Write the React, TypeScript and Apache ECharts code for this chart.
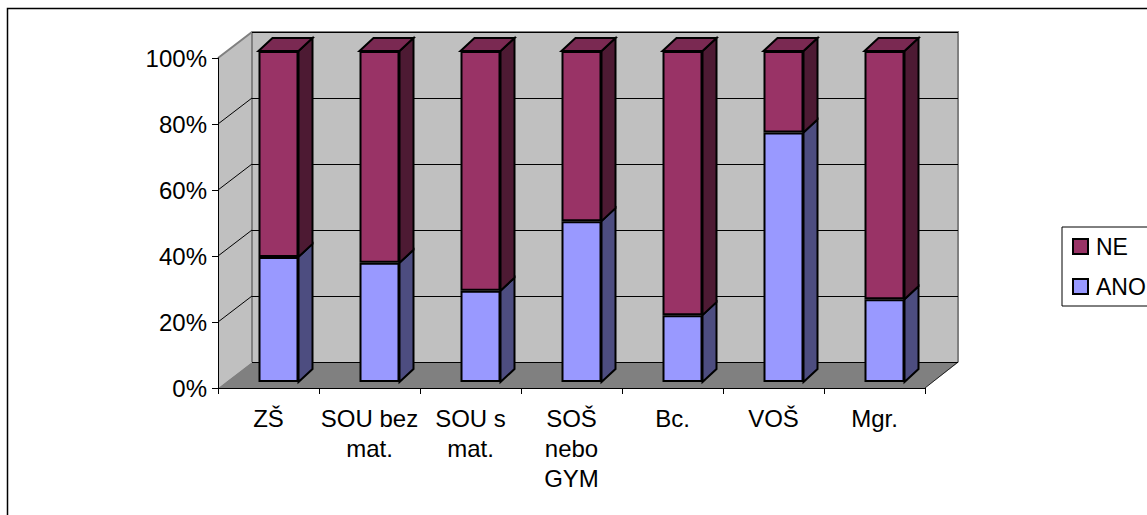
import React, { useEffect, useRef } from "react";
import * as echarts from "echarts";

const categories = ["ZŠ", "SOU bez\nmat.", "SOU s\nmat.", "SOŠ\nnebo\nGYM", "Bc.", "VOŠ", "Mgr."];
const ano = [37.8, 36, 27.6, 48.6, 20.2, 75.4, 25];
const ne = [62.2, 64, 72.4, 51.4, 79.8, 24.6, 75];
const yTicks = [20, 40, 60, 80];

const FONT = "'Liberation Sans', Arial, sans-serif";
const FS = 24;
const BAR_W = 40;
const BAR_DX = 14;
const BAR_DY = -13;
const WALL_DX = 34;
const WALL_DY = -26;

const hiddenCat = (gridIndex: number) => ({
  type: "category" as const,
  gridIndex,
  data: categories,
  show: false,
});
const hiddenVal = (gridIndex: number) => ({
  type: "value" as const,
  gridIndex,
  min: 0,
  max: 100,
  interval: 20,
  axisLine: { show: false },
  axisTick: { show: false },
  axisLabel: { show: false },
  splitLine: { show: false },
});

const depthSeries = (name: string, starts: number[], ends: number[], sideColor: string, topColor?: string) => ({
  type: "custom" as const,
  name,
  xAxisIndex: 1,
  yAxisIndex: 1,
  z: 3,
  clip: false,
  silent: true,
  encode: { x: 0, y: [1, 2] },
  data: categories.map((_, i) => [i, starts[i], ends[i]]),
  renderItem: (_: any, api: any) => {
    const i = api.value(0);
    const a = api.coord([i, api.value(1)]);
    const b = api.coord([i, api.value(2)]);
    const rx = a[0] + BAR_W / 2;
    const lx = a[0] - BAR_W / 2;
    const stroke = { stroke: "#000", lineWidth: 2, lineJoin: "miter" };
    const children: any[] = [
      {
        type: "polygon",
        shape: { points: [[rx, a[1]], [rx + BAR_DX, a[1] + BAR_DY], [rx + BAR_DX, b[1] + BAR_DY], [rx, b[1]]] },
        style: { fill: sideColor, ...stroke },
      },
    ];
    if (topColor) {
      children.push({
        type: "polygon",
        shape: { points: [[lx, b[1]], [lx + BAR_DX, b[1] + BAR_DY], [rx + BAR_DX, b[1] + BAR_DY], [rx, b[1]]] },
        style: { fill: topColor, ...stroke },
      });
    }
    return { type: "group", children };
  },
});

export default function App() {
  const ref = useRef<HTMLDivElement>(null);
  useEffect(() => {
    document.body.style.margin = "0";
    const chart = echarts.init(ref.current!, null, { renderer: "svg" });
    const X0 = 218, X1 = 925, YT = 58, YB = 388;
    const wall = "#c0c0c0", edge = "#808080";
    chart.setOption({
      animation: false,
      backgroundColor: "#fff",
      textStyle: { fontFamily: FONT },
      graphic: {
        elements: [
          { type: "rect", z: -20, shape: { x: 7.5, y: 8.5, width: 2000, height: 2000 }, style: { fill: "#fff", stroke: "#000", lineWidth: 1.5 } },
          { type: "polygon", z: -10, shape: { points: [[X0, YT], [X0 + WALL_DX, YT + WALL_DY], [X0 + WALL_DX, YB + WALL_DY], [X0, YB]] }, style: { fill: wall } },
          { type: "rect", z: -10, shape: { x: X0 + WALL_DX, y: YT + WALL_DY, width: X1 - X0 - 1 + 0, height: YB - YT }, style: { fill: wall } },
          { type: "polygon", z: -9, shape: { points: [[X0, YB], [X0 + WALL_DX, YB + WALL_DY], [X1 + WALL_DX, YB + WALL_DY], [X1, YB]] }, style: { fill: edge } },
          { type: "polyline", z: -5, shape: { points: [[X0, YT], [X0 + WALL_DX, YT + WALL_DY], [X1 + WALL_DX - 1, YT + WALL_DY], [X1 + WALL_DX - 1, YB + WALL_DY]] }, style: { fill: "none", stroke: edge, lineWidth: 2 } },
          { type: "line", z: -5, shape: { x1: X0 + WALL_DX, y1: YT + WALL_DY, x2: X0 + WALL_DX, y2: YB + WALL_DY }, style: { stroke: edge, lineWidth: 2 } },
          { type: "line", z: -5, shape: { x1: X1, y1: YB, x2: X1 + WALL_DX - 1, y2: YB + WALL_DY }, style: { stroke: "#222", lineWidth: 1 } },
        ],
      },
      grid: [
        { left: X0, width: X1 - X0, top: YT, height: YB - YT, containLabel: false },
        { left: 228, width: X1 - X0, top: 51, height: 331 },
        { left: X0 + WALL_DX, width: X1 - X0 - 1, top: YT + WALL_DY, height: YB - YT },
      ],
      xAxis: [
        {
          type: "category",
          gridIndex: 0,
          data: categories,
          boundaryGap: true,
          axisLine: { show: true, lineStyle: { color: "#000", width: 1 } },
          axisTick: { show: true, length: 6, alignWithLabel: false, lineStyle: { color: "#000", width: 1 } },
          axisLabel: { color: "#000", fontSize: FS, fontFamily: FONT, lineHeight: 30, margin: 15, interval: 0 },
        },
        hiddenCat(1),
        hiddenCat(2),
      ],
      yAxis: [
        {
          type: "value",
          gridIndex: 0,
          min: 0,
          max: 100,
          interval: 20,
          axisLine: { show: true, lineStyle: { color: "#000", width: 1 } },
          axisTick: { show: true, length: 6, lineStyle: { color: "#000", width: 1 } },
          axisLabel: { color: "#000", fontSize: FS, fontFamily: FONT, margin: 11, formatter: "{value}%" },
          splitLine: { show: false },
        },
        hiddenVal(1),
        { ...hiddenVal(2), splitLine: { show: true, lineStyle: { color: "#000", width: 1 } } },
      ],
      legend: {
        left: 1062,
        top: 227,
        orient: "vertical",
        data: ["NE", "ANO"],
        icon: "rect",
        itemWidth: 15,
        itemHeight: 15,
        itemGap: 17,
        padding: [8, 10, 8, 10],
        borderColor: "#000",
        borderWidth: 1,
        textStyle: { color: "#000", fontSize: 23, fontFamily: FONT, padding: [0, 0, 0, 3] },
      },
      series: [
        {
          type: "custom",
          name: "wall-lines",
          xAxisIndex: 0,
          yAxisIndex: 0,
          z: 1,
          silent: true,
          clip: false,
          data: yTicks.map((v) => [0, v]),
          encode: { x: 0, y: 1 },
          renderItem: (_: any, api: any) => {
            const p = api.coord([0, api.value(1)]);
            const x = p[0] - api.size([1, 0])[0] / 2;
            return {
              type: "line",
              shape: { x1: x, y1: p[1], x2: x + WALL_DX, y2: p[1] + WALL_DY },
              style: { stroke: "#000", lineWidth: 1 },
            };
          },
        },
        depthSeries("ANO-depth", ano.map(() => 0), ano, "#4d4d80"),
        depthSeries("NE-depth", ano, ano.map((v, i) => v + ne[i]), "#4d1a33", "#7a2952"),
        {
          type: "bar",
          name: "ANO",
          xAxisIndex: 1,
          yAxisIndex: 1,
          stack: "s",
          barWidth: BAR_W,
          z: 4,
          data: ano,
          itemStyle: { color: "#9999ff", borderColor: "#000", borderWidth: 2 },
        },
        {
          type: "bar",
          name: "NE",
          xAxisIndex: 1,
          yAxisIndex: 1,
          stack: "s",
          barWidth: BAR_W,
          z: 4,
          data: ne,
          itemStyle: { color: "#993366", borderColor: "#000", borderWidth: 2 },
        },
      ],
    });
    return () => chart.dispose();
  }, []);
  return <div ref={ref} style={{ width: 1147, height: 515 }} />;
}
